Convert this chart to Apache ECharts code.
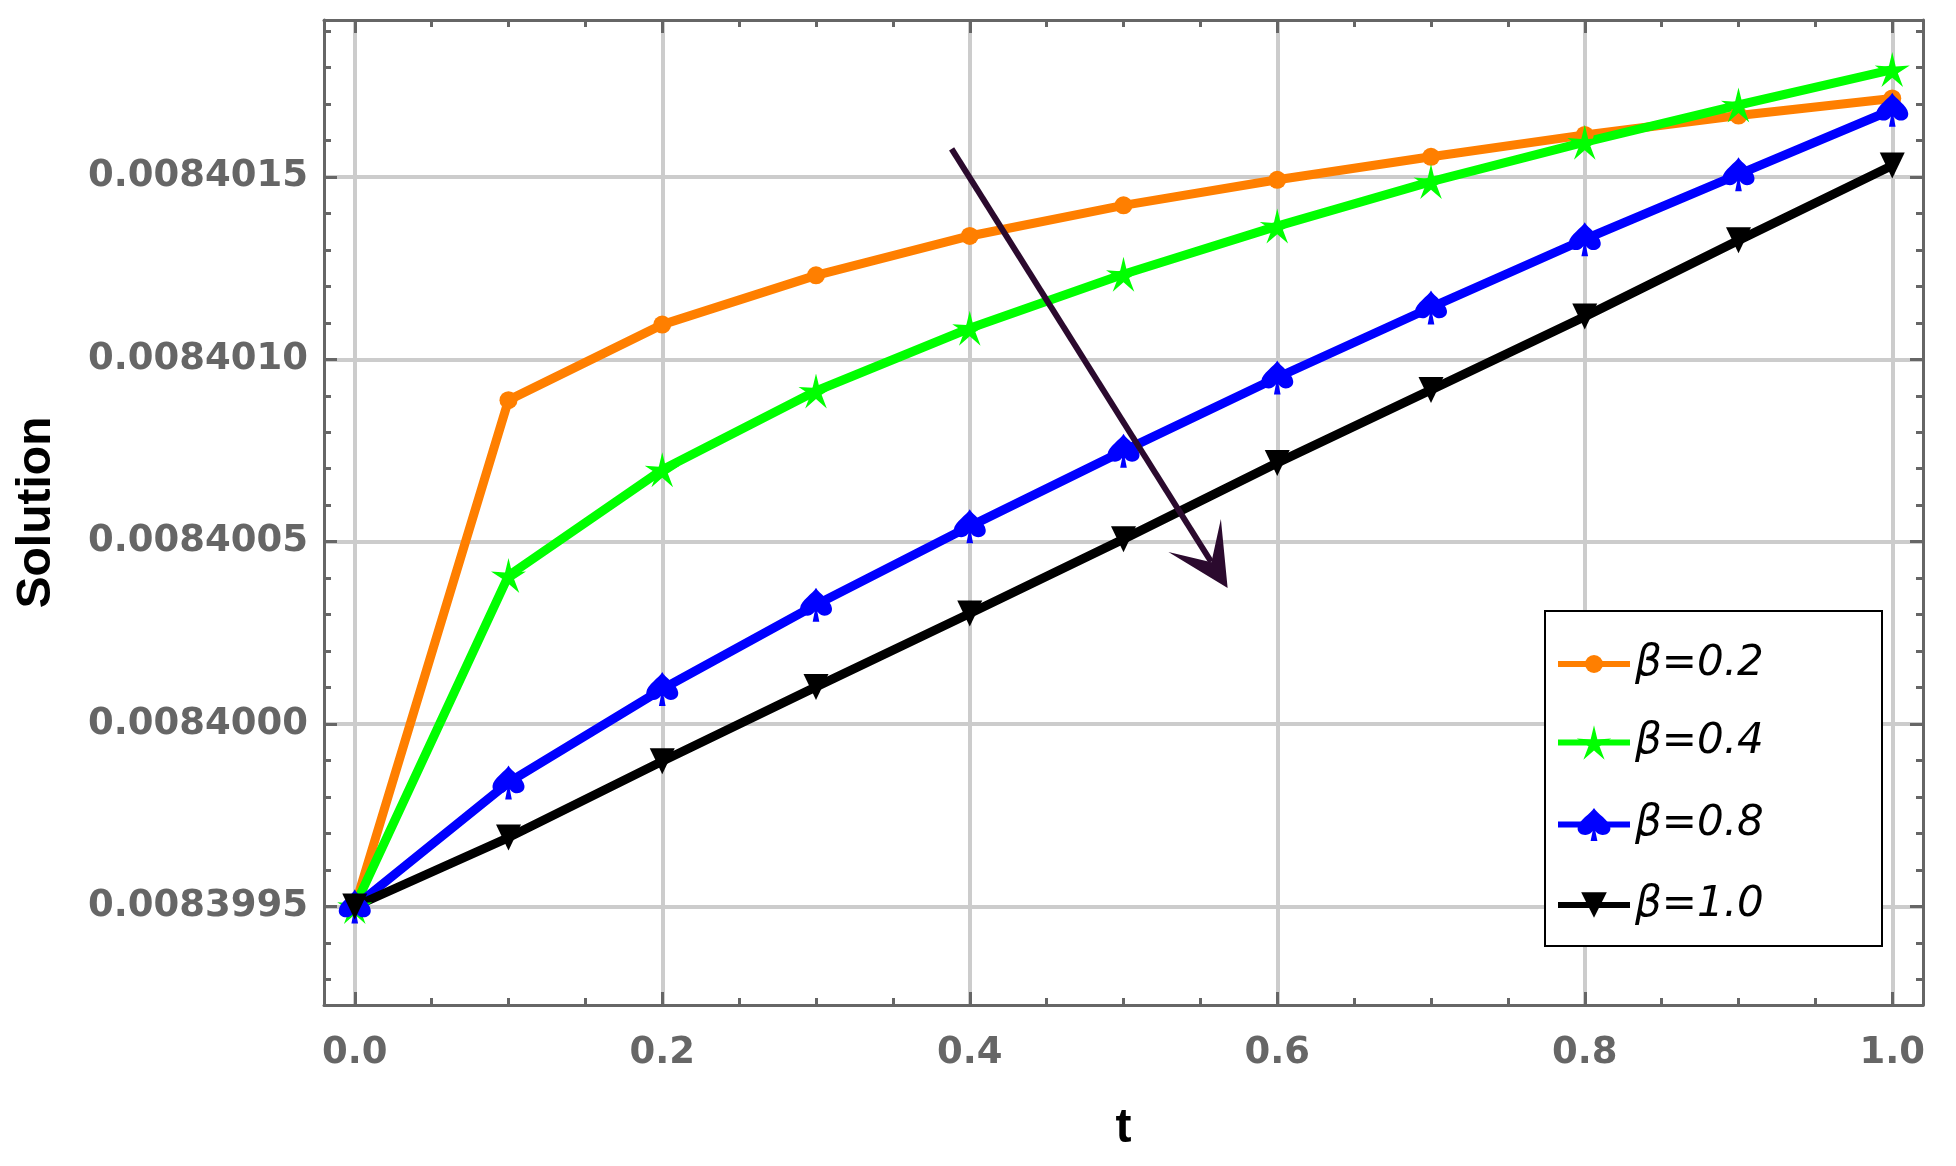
<!DOCTYPE html>
<html>
<head>
<meta charset="utf-8">
<script src="https://cdn.jsdelivr.net/npm/echarts@6/dist/echarts.min.js"></script>
<style>
  html, body { margin: 0; padding: 0; background: #fff; }
  #chart { width: 1956px; height: 1166px; }
</style>
</head>
<body>
<div id="chart"></div>
<script>
  // time points
  const tValues = [0, 0.1, 0.2, 0.3, 0.4, 0.5, 0.6, 0.7, 0.8, 0.9, 1.0]

  // solution values
  const beta02 = [0.00839950, 0.008400888, 0.008401095, 0.00840123, 0.008401338, 0.008401422,
    0.008401492, 0.008401555, 0.008401615, 0.008401668, 0.008401715]
  const beta04 = [0.00839950, 0.008400407, 0.008400697, 0.008400913, 0.008401085, 0.008401233,
    0.008401365, 0.008401487, 0.008401595, 0.008401697, 0.008401794]
  const beta08 = [0.00839950, 0.00839984, 0.008400096, 0.008400327, 0.008400542, 0.008400749,
    0.00840095, 0.008401142, 0.008401329, 0.008401507, 0.008401684]
  const beta10 = [0.00839950, 0.008399689, 0.008399898, 0.008400102, 0.008400303, 0.008400507,
    0.008400716, 0.008400916, 0.008401117, 0.008401326, 0.008401531]

  const seriesNames = ['β=0.2', 'β=0.4', 'β=0.8', 'β=1.0']

  // tick labels
  const xTickValues = [0, 0.2, 0.4, 0.6, 0.8, 1.0]
  const yTickValues = [0.0083995, 0.0084000, 0.0084005, 0.0084010, 0.0084015]

  // arrow drawn across the curves (start, end) in data units
  const arrowStart = [0.3882, 0.008401577]
  const arrowEnd = [0.557, 0.008400445]

  // minor ticks
  let xMinorValues = []
  for (let i = 0; i <= 20; i++) xMinorValues.push(i * 5 / 100)
  let yMinorValues = []
  for (let i = 0; i <= 26; i++) yMinorValues.push((83993 + i) / 1e7)

  const starPath = 'path://M0,-50 L9.4,-12.9 L47.55,-15.45 L15.2,4.9 L29.39,40.45 L0,16 L-29.39,40.45 L-15.2,4.9 L-47.55,-15.45 L-9.4,-12.9 Z'
  const spadePath = 'path://M50,0 C42,16 4,38 2,60 C0,78 20,86 34,80 C39,78 43,74 46,70 L40,100 L60,100 L54,70 C57,74 61,78 66,80 C80,86 100,78 98,60 C96,38 58,16 50,0 Z'
  const arrowPath = 'path://M31,0 L62,61 L31,30 L0,61 Z'

  const gray = '#666'
  const labelFont = { fontFamily: 'DejaVu Sans', fontWeight: 'bold', fontSize: 37, color: gray }
  const nameFont = { fontFamily: 'Liberation Sans', fontWeight: 'bold', fontSize: 48, color: '#000' }
  const legendTextH = 40

  const toData = (ys) => tValues.map((t, i) => [t, ys[i]])

  function xAxisFor (position, ticks, tickLen, main) {
    return {
      type: 'value', position: position, min: -0.02, max: 1.02,
      axisLine: { show: main, onZero: false, lineStyle: { color: gray, width: 3 } },
      axisTick: { show: true, inside: true, length: tickLen, customValues: ticks, lineStyle: { color: gray, width: 3 } },
      axisLabel: position === 'bottom' && main
        ? Object.assign({ customValues: xTickValues, margin: 30, formatter: (v) => v.toFixed(1) }, labelFont)
        : { show: false },
      splitLine: { show: position === 'bottom' && main, lineStyle: { color: '#ccc', width: 4 } },
      name: position === 'bottom' && main ? 't' : '',
      nameLocation: 'middle',
      nameGap: 100,
      nameTextStyle: nameFont
    }
  }

  function yAxisFor (position, ticks, tickLen, main) {
    return {
      type: 'value', position: position, min: 0.00839923, max: 0.00840193, scale: true,
      axisLine: { show: main, onZero: false, lineStyle: { color: gray, width: 3 } },
      axisTick: { show: true, inside: true, length: tickLen, customValues: ticks, lineStyle: { color: gray, width: 3 } },
      axisLabel: position === 'left' && main
        ? Object.assign({ customValues: yTickValues, margin: 16, formatter: (v) => v.toFixed(7) }, labelFont)
        : { show: false },
      splitLine: { show: position === 'left' && main, lineStyle: { color: '#ccc', width: 4 } },
      name: position === 'left' && main ? 'Solution' : '',
      nameLocation: 'middle',
      nameGap: 263,
      nameTextStyle: nameFont
    }
  }

  function legendFor (i, itemH, centerY) {
    return {
      data: [seriesNames[i]],
      orient: 'vertical',
      left: 1555,
      top: centerY - Math.max(itemH, legendTextH) / 2,
      padding: 0,
      itemWidth: 72,
      itemHeight: itemH,
      selectedMode: false,
      lineStyle: { width: 6 },
      textStyle: { fontFamily: 'DejaVu Sans', fontStyle: 'italic', fontSize: 42, lineHeight: legendTextH, color: '#000' },
      z: 6
    }
  }

  const chart = echarts.init(document.getElementById('chart'), null, { renderer: 'canvas' })
  const options = {
    animation: false,
    backgroundColor: '#fff',
    grid: { left: 324, right: 33, top: 20, bottom: 161, outerBoundsMode: 'none' },
    xAxis: [
      xAxisFor('bottom', xTickValues, 13, true),
      xAxisFor('bottom', xMinorValues, 7, false),
      xAxisFor('top', xTickValues, 13, true),
      xAxisFor('top', xMinorValues, 7, false)
    ],
    yAxis: [
      yAxisFor('left', yTickValues, 13, true),
      yAxisFor('left', yMinorValues, 7, false),
      yAxisFor('right', yTickValues, 13, true),
      yAxisFor('right', yMinorValues, 7, false)
    ],
    legend: [
      legendFor(0, 22.5, 663),
      legendFor(1, 43, 743),
      legendFor(2, 41, 824),
      legendFor(3, 32, 904)
    ],
    graphic: [
      {
        type: 'rect', left: 1544, top: 610, z: 4,
        shape: { width: 337, height: 335 },
        style: { fill: '#fff', stroke: '#000', lineWidth: 2 }
      }
    ],
    series: [
      {
        name: seriesNames[0], type: 'line', data: toData(beta02),
        symbol: 'circle', symbolSize: 18,
        lineStyle: { color: '#ff7f00', width: 9 }, itemStyle: { color: '#ff7f00' }
      },
      {
        name: seriesNames[1], type: 'line', data: toData(beta04),
        symbol: starPath, symbolSize: [35, 35],
        lineStyle: { color: '#00ff00', width: 9 }, itemStyle: { color: '#00ff00' }
      },
      {
        name: seriesNames[2], type: 'line', data: toData(beta08),
        symbol: spadePath, symbolSize: [32, 34],
        lineStyle: { color: '#0000ff', width: 9 }, itemStyle: { color: '#0000ff' }
      },
      {
        name: seriesNames[3], type: 'line', data: toData(beta10),
        symbol: 'triangle', symbolRotate: 180, symbolSize: [25, 26],
        lineStyle: { color: '#000', width: 9 }, itemStyle: { color: '#000' },
        markLine: {
          silent: true,
          symbol: ['none', arrowPath],
          symbolSize: 62,
          label: { show: false },
          lineStyle: { type: 'solid', color: '#2b0a2e', width: 6 },
          emphasis: { disabled: true },
          data: [[{ coord: arrowStart }, { coord: arrowEnd }]]
        }
      }
    ]
  }
  chart.setOption(options)
</script>
</body>
</html>
